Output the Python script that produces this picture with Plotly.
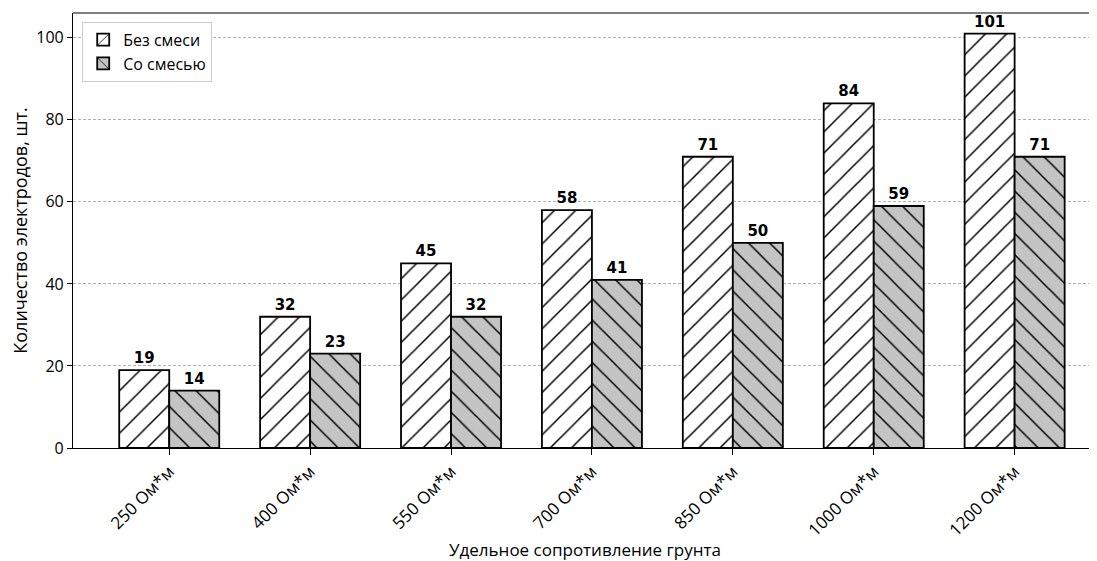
import plotly.graph_objects as go

categories = ["250 Ом*м", "400 Ом*м", "550 Ом*м", "700 Ом*м", "850 Ом*м", "1000 Ом*м", "1200 Ом*м"]
without_mix = [19, 32, 45, 58, 71, 84, 101]
with_mix = [14, 23, 32, 41, 50, 59, 71]
series_names = ["Без смеси", "Со смесью"]
y_ticks = [0, 20, 40, 60, 80, 100]

# page body has an 8px margin; compensate so the plot lands where the reference has it
OFF = 8
W, H = 1097 - OFF, 561 - OFF
ML, MR, MT = 73 - OFF, 0, 13 - OFF
MB = H - (448 - OFF)

FONT = "Open Sans"
BOLD = dict(family="DejaVu Sans", size=15, color="black", weight="bold")
GRAY = "#c4c4c4"

fig = go.Figure()
fig.add_trace(go.Bar(
    x=categories, y=without_mix, name=series_names[0],
    marker=dict(color="white", line=dict(color="black", width=1.8),
                pattern=dict(shape="/", fgcolor="black", fgopacity=1, bgcolor="white",
                             size=15, solidity=0.1)),
    text=without_mix, textposition="outside", cliponaxis=False, textfont=BOLD,
))
fig.add_trace(go.Bar(
    x=categories, y=with_mix, name=series_names[1],
    marker=dict(color=GRAY, line=dict(color="black", width=1.8),
                pattern=dict(shape="\\", fgcolor="black", fgopacity=1, bgcolor=GRAY,
                             size=15, solidity=0.1)),
    text=with_mix, textposition="outside", cliponaxis=False, textfont=BOLD,
))

px_per_unit = 140.9
x_left = -0.683
x_right = x_left + (W - ML - MR) / px_per_unit

fig.update_layout(
    width=W, height=H,
    margin=dict(l=ML, r=MR, t=MT, b=MB, autoexpand=False),
    paper_bgcolor="white", plot_bgcolor="white",
    barmode="group", bargap=0.29, bargroupgap=0,
    font=dict(family=FONT, size=16, color="black"),
    showlegend=True,
    legend=dict(x=0.009, y=0.98, xanchor="left", yanchor="top",
                bgcolor="white", bordercolor="#cccccc", borderwidth=1,
                font=dict(family=FONT, size=16, color="black"),
                tracegroupgap=2),
    xaxis=dict(range=[x_left, x_right], showline=True, linecolor="black", linewidth=1.2,
               ticks="outside", ticklen=6, tickcolor="black", tickangle=-45,
               showgrid=False, zeroline=False,
               tickfont=dict(family=FONT, size=17),
               title=dict(text="Удельное сопротивление грунта", standoff=6,
                          font=dict(family=FONT, size=17))),
    yaxis=dict(range=[0, 106.05], tickvals=y_ticks, showline=True, linecolor="black", linewidth=1.2,
               ticks="outside", ticklen=5, tickcolor="black",
               showgrid=True, gridcolor="#b0b0b0", gridwidth=0.8, griddash="3px,2px",
               zeroline=False, tickfont=dict(family=FONT, size=16),
               title=dict(text="Количество электродов, шт.", standoff=10,
                          font=dict(family=FONT, size=18))),
    shapes=[dict(type="line", xref="paper", yref="paper", x0=0, x1=1, y0=1, y1=1,
                 line=dict(color="black", width=1.2))],
)

fig.write_html("out.html")
